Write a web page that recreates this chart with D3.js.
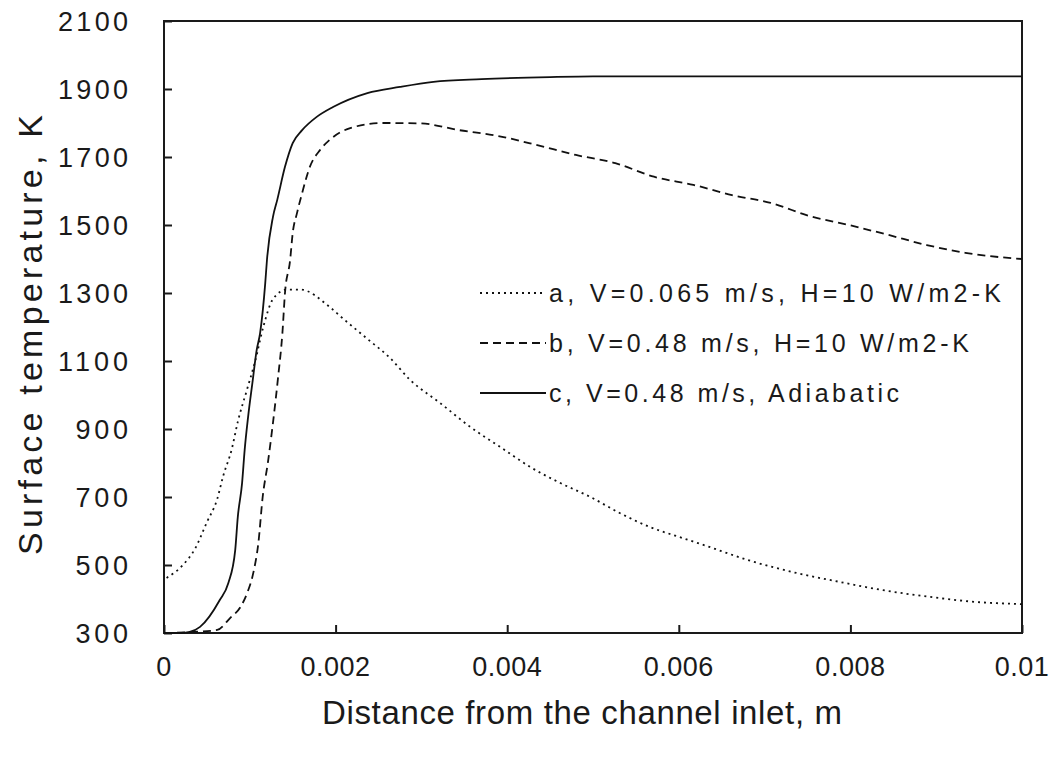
<!DOCTYPE html>
<html><head><meta charset="utf-8">
<script src="https://cdn.jsdelivr.net/npm/d3@7"></script>
<style>body{margin:0;background:#fff}</style>
</head><body><svg id="c" width="1051" height="757"></svg>
<script>
const xTicks = [0, 0.002, 0.004, 0.006, 0.008, 0.01];
const xTickLabels = ["0", "0.002", "0.004", "0.006", "0.008", "0.01"];
const yTicks = [300, 500, 700, 900, 1100, 1300, 1500, 1700, 1900, 2100];
const seriesNames = ["a, V=0.065 m/s, H=10 W/m2-K", "b, V=0.48 m/s, H=10 W/m2-K", "c, V=0.48 m/s, Adiabatic"];
const seriesA = [[0.00003,462],[0.00022,500],[0.00036,547],[0.0005,626],[0.00062,694],[0.00069,762],[0.00079,841],[0.00086,921],[0.00097,1018],[0.00106,1097],[0.00116,1203],[0.00127,1282],[0.00143,1310],[0.00159,1310],[0.00193,1259],[0.00209,1224],[0.00237,1165],[0.00263,1110],[0.00287,1044],[0.00322,976],[0.00357,906],[0.00392,847],[0.00427,788],[0.00462,741],[0.00497,700],[0.00531,653],[0.00566,612],[0.00601,582],[0.0063,558],[0.0068,515],[0.00733,479],[0.00788,450],[0.00838,426],[0.00893,406],[0.00948,391],[0.01,385]];
const seriesB = [[0,300],[0.00034,303],[0.00062,309],[0.00077,344],[0.00089,376],[0.00097,418],[0.00104,476],[0.0011,565],[0.00115,700],[0.00121,800],[0.00127,918],[0.00133,1053],[0.00138,1182],[0.00141,1300],[0.00147,1397],[0.0015,1476],[0.00155,1535],[0.00161,1594],[0.0017,1671],[0.00182,1721],[0.00193,1750],[0.00217,1785],[0.00255,1800],[0.00298,1799],[0.00344,1779],[0.00389,1762],[0.00435,1735],[0.0048,1706],[0.00526,1682],[0.00571,1642],[0.00617,1618],[0.00662,1588],[0.00707,1565],[0.00753,1526],[0.00798,1500],[0.00844,1471],[0.00889,1441],[0.00934,1418],[0.01,1400]];
const seriesC = [[0,300],[0.0002,300],[0.0003,303],[0.00042,318],[0.00065,397],[0.00075,447],[0.00083,544],[0.00086,641],[0.00091,741],[0.00094,838],[0.00098,935],[0.00103,1035],[0.00108,1132],[0.00112,1182],[0.00118,1329],[0.0012,1397],[0.00127,1524],[0.00132,1574],[0.00141,1671],[0.0015,1741],[0.00161,1779],[0.00178,1818],[0.00197,1847],[0.00237,1888],[0.00275,1906],[0.00314,1921],[0.0037,1929],[0.0045,1935],[0.005,1937],[0.01,1937]];

const svg = d3.select("#c");
const L = 164, R = 1022, T = 21, B = 633;
const x = d3.scaleLinear().domain([0, 0.01]).range([L, R]);
const y = d3.scaleLinear().domain([300, 2100]).range([B, T]);
const font = "'Liberation Sans', Arial, sans-serif";
const col = "#1a1a1a";

svg.append("rect").attr("x", L).attr("y", T).attr("width", R - L).attr("height", B - T)
  .attr("fill", "none").attr("stroke", col).attr("stroke-width", 2);

const ya = svg.append("g").attr("transform", `translate(${L},0)`)
  .call(d3.axisRight(y).tickValues(yTicks).tickSize(8).tickFormat(""));
ya.select(".domain").remove();
ya.selectAll("line").attr("stroke", col).attr("stroke-width", 2);
svg.selectAll(".ylab").data(yTicks).enter().append("text")
  .attr("x", 128).attr("y", d => y(d)).attr("dy", "0.36em").attr("text-anchor", "end")
  .attr("font-family", font).attr("font-size", 27).attr("fill", col)
  .attr("textLength", d => String(d).length * 17.5).attr("lengthAdjust", "spacing")
  .text(d => d);

const xa = svg.append("g").attr("transform", `translate(0,${B})`)
  .call(d3.axisTop(x).tickValues(xTicks).tickSize(8).tickFormat(""));
xa.select(".domain").remove();
xa.selectAll("line").attr("stroke", col).attr("stroke-width", 2);
svg.selectAll(".xlab").data(xTicks).enter().append("text")
  .attr("x", d => x(d)).attr("y", 676).attr("text-anchor", "middle")
  .attr("font-family", font).attr("font-size", 27).attr("fill", col)
  .attr("letter-spacing", 0.5)
  .text((d, i) => xTickLabels[i]);

svg.append("text").attr("x", 582).attr("y", 724).attr("text-anchor", "middle")
  .attr("font-family", font).attr("font-size", 33).attr("fill", col)
  .attr("textLength", 520).attr("lengthAdjust", "spacing")
  .text("Distance from the channel inlet, m");
svg.append("text").attr("transform", "translate(42,335) rotate(-90)").attr("text-anchor", "middle")
  .attr("font-family", font).attr("font-size", 34).attr("fill", col)
  .attr("textLength", 440).attr("lengthAdjust", "spacing")
  .text("Surface temperature, K");

const line = d3.line().x(d => x(d[0])).y(d => y(d[1])).curve(d3.curveMonotoneX);
const styles = [{dash: "2,4", w: 1.8}, {dash: "8,5", w: 1.8}, {dash: null, w: 1.8}];
[seriesA, seriesB, seriesC].forEach((s, i) => {
  svg.append("path").datum(s).attr("d", line).attr("fill", "none")
    .attr("stroke", "#111").attr("stroke-width", styles[i].w)
    .attr("stroke-dasharray", styles[i].dash);
});

const legY = [293, 343, 393];
const legLen = [452, 420, 350];
seriesNames.forEach((n, i) => {
  svg.append("line").attr("x1", 480).attr("x2", 546).attr("y1", legY[i]).attr("y2", legY[i])
    .attr("stroke", "#111").attr("stroke-width", 1.8).attr("stroke-dasharray", styles[i].dash);
  svg.append("text").attr("x", 549).attr("y", legY[i]).attr("dy", "0.36em")
    .attr("font-family", font).attr("font-size", 25).attr("fill", col)
    .attr("textLength", legLen[i]).attr("lengthAdjust", "spacing").text(n);
});
</script></body></html>
